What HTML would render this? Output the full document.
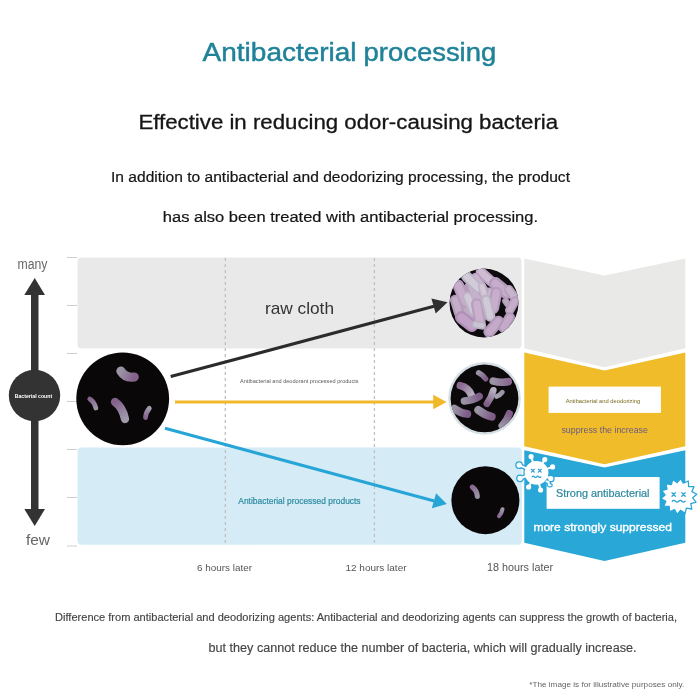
<!DOCTYPE html>
<html>
<head>
<meta charset="utf-8">
<title>Antibacterial processing</title>
<style>
html,body{margin:0;padding:0;background:#fff;}
body{width:700px;height:700px;overflow:hidden;position:relative;}
svg{position:absolute;left:0;top:0;display:block;}
text{font-family:"Liberation Sans",sans-serif;}
</style>
</head>
<body>
<svg width="700" height="700" viewBox="0 0 700 700">
<defs>
  <clipPath id="c1"><circle cx="484" cy="303" r="34.5"/></clipPath>
  <clipPath id="c2"><circle cx="484.5" cy="398.4" r="33.9"/></clipPath>
  <filter id="bl" x="-10%" y="-10%" width="120%" height="120%"><feGaussianBlur stdDeviation="0.6"/></filter>
  <filter id="bl2" x="-10%" y="-10%" width="120%" height="120%"><feGaussianBlur stdDeviation="0.45"/></filter>
</defs>

<!-- headings -->
<g fill="#1f8299" stroke="#1f8299" stroke-width="0.45" font-size="25">
<text x="202.6" y="61" textLength="154" lengthAdjust="spacingAndGlyphs">Antibacterial</text>
<text x="363.6" y="61" textLength="132.6" lengthAdjust="spacingAndGlyphs">processing</text>
</g>
<text x="138.4" y="129.2" font-size="20" fill="#151515" stroke="#151515" stroke-width="0.3" textLength="419.8" lengthAdjust="spacingAndGlyphs">Effective in reducing odor-causing bacteria</text>
<text x="111" y="181.5" font-size="14.7" fill="#151515" stroke="#151515" stroke-width="0.2" textLength="459" lengthAdjust="spacingAndGlyphs">In addition to antibacterial and deodorizing processing, the product</text>
<text x="162.8" y="222" font-size="14.7" fill="#151515" stroke="#151515" stroke-width="0.2" textLength="375.2" lengthAdjust="spacingAndGlyphs">has also been treated with antibacterial processing.</text>

<!-- bands -->
<rect x="77.5" y="257.5" width="444" height="91" rx="4" fill="#e9e9e9"/>
<rect x="77.5" y="447.5" width="444.3" height="97.3" rx="4" fill="#d5ecf7"/>

<!-- ticks -->
<g stroke="#d0d0d0" stroke-width="1">
<line x1="67" y1="257.5" x2="77" y2="257.5"/>
<line x1="67" y1="305.5" x2="77" y2="305.5"/>
<line x1="67" y1="353.5" x2="77" y2="353.5"/>
<line x1="67" y1="401.5" x2="77" y2="401.5"/>
<line x1="67" y1="449.5" x2="77" y2="449.5"/>
<line x1="67" y1="497.5" x2="77" y2="497.5"/>
<line x1="67" y1="546" x2="77" y2="546"/>
</g>
<!-- dashed lines -->
<g stroke="#c0c0c0" stroke-width="1.3" stroke-dasharray="3 3">
<line x1="225.3" y1="258" x2="225.3" y2="546"/>
<line x1="374.4" y1="258" x2="374.4" y2="546"/>
</g>

<!-- axis arrow -->
<g fill="#333">
<rect x="31" y="293" width="7.5" height="218"/>
<polygon points="34.7,278 45,295 24.3,295"/>
<polygon points="34.7,526 45,509 24.3,509"/>
<circle cx="34.5" cy="395.5" r="25.7"/>
</g>
<text x="17.5" y="268.5" font-size="14" fill="#666" textLength="30" lengthAdjust="spacingAndGlyphs">many</text>
<text x="26" y="545" font-size="15" fill="#666" textLength="24" lengthAdjust="spacingAndGlyphs">few</text>
<text x="33.4" y="397.5" font-size="5.9" fill="#fff" text-anchor="middle" font-weight="bold" textLength="37.5" lengthAdjust="spacingAndGlyphs">Bacterial count</text>

<!-- lines -->
<line x1="170.7" y1="376.6" x2="434" y2="306.3" stroke="#2b2b2b" stroke-width="3.1"/>
<polygon points="447.5,302.2 431.4,298.4 435.7,313.4" fill="#303030"/>
<line x1="175" y1="402" x2="434" y2="402" stroke="#f0b92c" stroke-width="2.8"/>
<polygon points="446.6,402 433.2,394.8 433.2,409.3" fill="#f0b92c"/>
<line x1="165" y1="428.3" x2="434.3" y2="501.1" stroke="#27a5d6" stroke-width="3.1"/>
<polygon points="446.8,503.9 436.1,493.2 431.8,508.2" fill="#27a5d6"/>

<!-- start circle -->
<circle cx="122.7" cy="398.8" r="46.4" fill="#0a0708"/>
<g stroke-linecap="round" fill="none" filter="url(#bl2)">
<linearGradient id="s0" gradientUnits="userSpaceOnUse" x1="120.8" y1="371" x2="134.3" y2="377"><stop offset="0" stop-color="#9a94a5"/><stop offset="1" stop-color="#83628c"/></linearGradient><path d="M120.8 371 Q125.5 378.5 134.3 377" stroke="url(#s0)" stroke-width="9"/>
<linearGradient id="s1" gradientUnits="userSpaceOnUse" x1="89.8" y1="399" x2="95.8" y2="408"><stop offset="0" stop-color="#85648d"/><stop offset="1" stop-color="#9a94a5"/></linearGradient><path d="M89.8 399 Q94.5 402 95.8 408" stroke="url(#s1)" stroke-width="4.8"/>
<linearGradient id="s2" gradientUnits="userSpaceOnUse" x1="115" y1="402" x2="125" y2="419"><stop offset="0" stop-color="#84628c"/><stop offset="1" stop-color="#a09aab"/></linearGradient><path d="M115 402 Q122.5 407 125 419" stroke="url(#s2)" stroke-width="8.3"/>
<linearGradient id="s3" gradientUnits="userSpaceOnUse" x1="149.3" y1="408.3" x2="145.5" y2="417.5"><stop offset="0" stop-color="#a09aab"/><stop offset="1" stop-color="#85648d"/></linearGradient><path d="M149.3 408.3 Q146 412 145.5 417.5" stroke="url(#s3)" stroke-width="4.8"/>
</g>

<!-- labels in chart -->
<text x="265" y="313.5" font-size="17" fill="#333" textLength="69" lengthAdjust="spacingAndGlyphs">raw cloth</text>
<text x="240" y="383.3" font-size="6" fill="#5a5a5a" textLength="118.6" lengthAdjust="spacingAndGlyphs">Antibacterial and deodorant processed products</text>
<text x="238.3" y="503.8" font-size="8.6" fill="#2c8ba0" stroke="#2c8ba0" stroke-width="0.2" textLength="122.3" lengthAdjust="spacingAndGlyphs">Antibacterial processed products</text>

<!-- x axis labels -->
<text x="197" y="570.5" font-size="9.5" fill="#555" textLength="55" lengthAdjust="spacingAndGlyphs">6 hours later</text>
<text x="345.5" y="570.5" font-size="9.5" fill="#555" textLength="61" lengthAdjust="spacingAndGlyphs">12 hours later</text>
<text x="487" y="570.5" font-size="10.5" fill="#555" textLength="66" lengthAdjust="spacingAndGlyphs">18 hours later</text>

<!-- footer text -->
<text x="55" y="620.5" font-size="11" fill="#444" stroke="#444" stroke-width="0.15" textLength="622" lengthAdjust="spacingAndGlyphs">Difference from antibacterial and deodorizing agents: Antibacterial and deodorizing agents can suppress the growth of bacteria,</text>
<text x="208.5" y="651.8" font-size="12.5" fill="#444" stroke="#444" stroke-width="0.15" textLength="428" lengthAdjust="spacingAndGlyphs">but they cannot reduce the number of bacteria, which will gradually increase.</text>
<text x="529.3" y="686.6" font-size="7.5" fill="#666" textLength="155" lengthAdjust="spacingAndGlyphs">*The image is for illustrative purposes only.</text>

<!-- right panels -->
<polygon points="524.3,258.5 604.5,275.6 685.3,258.5 685.3,348.3 604.5,367.2 524.3,348.3" fill="#e9e9e8"/>
<polygon points="524.3,352.5 604.5,370.4 685.3,352.5 685.3,446.3 604.5,464.3 524.3,446.3" fill="#f0bc2a"/>
<polygon points="524.3,450.2 604.5,467.4 685.3,450.2 685.3,542.7 604.5,560.9 524.3,542.7" fill="#29a8d8"/>
<rect x="548.6" y="386.6" width="112.3" height="26.3" fill="#fff"/>
<rect x="546.6" y="477" width="113" height="31.8" fill="#fff"/>
<text x="565.7" y="402.5" font-size="6.2" fill="#7a6a1e" textLength="74.5" lengthAdjust="spacingAndGlyphs">Antibacterial and deodorizing</text>
<text x="561.4" y="433" font-size="9.5" fill="#6a5a84" textLength="86.5" lengthAdjust="spacingAndGlyphs">suppress the increase</text>
<text x="556" y="496.8" font-size="10.8" fill="#2b879f" textLength="93.5" lengthAdjust="spacingAndGlyphs" stroke="#2b879f" stroke-width="0.2">Strong antibacterial</text>
<text x="533.4" y="531" font-size="11.8" fill="#fff" textLength="138.5" lengthAdjust="spacingAndGlyphs" stroke="#fff" stroke-width="0.35">more strongly suppressed</text>

<!-- virus1 -->
<g stroke="#2aa7d7" stroke-width="4.6" fill="#2aa7d7" stroke-linecap="round">
<circle cx="536.5" cy="472.8" r="10.9"/>
<line x1="536.5" y1="472.8" x2="531.1" y2="456.6"/>
<circle cx="531.1" cy="456.6" r="1.6"/>
<line x1="536.5" y1="472.8" x2="544.8" y2="459.6"/>
<circle cx="544.8" cy="459.6" r="1.6"/>
<line x1="536.5" y1="472.8" x2="552.6" y2="466.9"/>
<circle cx="552.6" cy="466.9" r="1.6"/>
<line x1="536.5" y1="472.8" x2="550.8" y2="478.5"/>
<circle cx="550.8" cy="478.5" r="1.6"/>
<line x1="536.5" y1="472.8" x2="540.6" y2="490"/>
<circle cx="540.6" cy="490" r="1.6"/>
<line x1="536.5" y1="472.8" x2="528.6" y2="487"/>
<circle cx="528.6" cy="487" r="1.6"/>
<line x1="536.5" y1="472.8" x2="520" y2="478.3"/>
<circle cx="520" cy="478.3" r="1.6"/>
<line x1="536.5" y1="472.8" x2="519.1" y2="465.1"/>
<circle cx="519.1" cy="465.1" r="1.6"/>
<path d="M546.5 481.5 q2.5 -0.5 2.2 2 q-0.3 2 1.8 1.8" fill="none"/>
</g>
<g stroke="#fff" stroke-width="2" fill="#fff" stroke-linecap="round">
<circle cx="536.5" cy="472.8" r="10.9"/>
<line x1="536.5" y1="472.8" x2="531.1" y2="456.6"/>
<circle cx="531.1" cy="456.6" r="1.6"/>
<line x1="536.5" y1="472.8" x2="544.8" y2="459.6"/>
<circle cx="544.8" cy="459.6" r="1.6"/>
<line x1="536.5" y1="472.8" x2="552.6" y2="466.9"/>
<circle cx="552.6" cy="466.9" r="1.6"/>
<line x1="536.5" y1="472.8" x2="550.8" y2="478.5"/>
<circle cx="550.8" cy="478.5" r="1.6"/>
<line x1="536.5" y1="472.8" x2="540.6" y2="490"/>
<circle cx="540.6" cy="490" r="1.6"/>
<line x1="536.5" y1="472.8" x2="528.6" y2="487"/>
<circle cx="528.6" cy="487" r="1.6"/>
<line x1="536.5" y1="472.8" x2="520" y2="478.3"/>
<circle cx="520" cy="478.3" r="1.6"/>
<line x1="536.5" y1="472.8" x2="519.1" y2="465.1"/>
<circle cx="519.1" cy="465.1" r="1.6"/>
<path d="M546.5 481.5 q2.5 -0.5 2.2 2 q-0.3 2 1.8 1.8" fill="none"/>
</g>
<g stroke="#2aa2d4" stroke-width="1.25" fill="none" stroke-linecap="round">
<path d="M531.5 469.3 l2.8 2.8 M534.3 469.3 l-2.8 2.8"/>
<path d="M538.4 469.3 l2.8 2.8 M541.2 469.3 l-2.8 2.8"/>
<path d="M532.2 476.8 q1.1 -1.3 2.2 0 q1.1 1.3 2.2 0 q1.1 -1.3 2.2 0 q1.1 1.3 2.2 0"/>
</g>
<!-- virus2 -->
<polygon points="680.7,478.5 683.3,483.2 688.3,481.0 688.6,486.5 694.0,486.6 692.0,491.6 696.8,494.2 692.7,497.8 696.0,502.1 690.8,503.7 691.8,509.0 686.4,508.1 685.1,513.3 680.6,510.2 677.1,514.3 674.5,509.6 669.5,511.8 669.2,506.3 663.8,506.2 665.8,501.2 661.0,498.6 665.1,495.0 661.8,490.7 667.0,489.1 666.0,483.8 671.4,484.7 672.7,479.5 677.2,482.6" fill="#fff" stroke="#2aa7d7" stroke-width="1.3" stroke-linejoin="round"/>
<g stroke="#2aa2d4" stroke-width="1.3" fill="none" stroke-linecap="round">
<path d="M672 492.8 l3.4 3.4 M675.4 492.8 l-3.4 3.4"/>
<path d="M681.8 492.8 l3.4 3.4 M685.2 492.8 l-3.4 3.4"/>
<path d="M672.3 501.3 q1.6 -1.8 3.2 0 q1.6 1.8 3.2 0 q1.6 -1.8 3.2 0 q1.6 1.8 3.2 0"/>
</g>
<!-- /virus -->
<!-- circles -->
<circle cx="484" cy="303" r="34.5" fill="#0c0a0c"/>
<circle cx="484.5" cy="398.4" r="36.3" fill="#d6dfe4"/>
<circle cx="484.5" cy="398.4" r="33.9" fill="#0c090b"/>
<circle cx="485.4" cy="500.2" r="34" fill="#0a0708"/>
<!-- bacteria -->
<g clip-path="url(#c1)"><g stroke-linecap="round" filter="url(#bl)">
<ellipse cx="476.5" cy="301" rx="16" ry="21" fill="#b79bbc" transform="rotate(-15 476.5 301)"/>
<line x1="463.4" y1="305.1" x2="469.6" y2="316.4" stroke="#b19bb7" stroke-width="10.5"/>
<line x1="463.4" y1="305.1" x2="469.6" y2="316.4" stroke="#c0abc6" stroke-width="6.5"/>
<line x1="471.7" y1="287.6" x2="477.8" y2="298.9" stroke="#b69fbb" stroke-width="10.5"/>
<line x1="471.7" y1="287.6" x2="477.8" y2="298.9" stroke="#c6b1cb" stroke-width="6.5"/>
<line x1="489.2" y1="292.7" x2="492.2" y2="301.0" stroke="#b9a7c0" stroke-width="10.5"/>
<line x1="489.2" y1="292.7" x2="492.2" y2="301.0" stroke="#cabacf" stroke-width="6.5"/>
<line x1="505.6" y1="301.0" x2="507.7" y2="304.0" stroke="#ac98b3" stroke-width="7.0"/>
<line x1="505.6" y1="301.0" x2="507.7" y2="304.0" stroke="#bba8c1" stroke-width="4.3"/>
<line x1="455.2" y1="299.9" x2="459.3" y2="313.3" stroke="#b299b8" stroke-width="10.5"/>
<line x1="455.2" y1="299.9" x2="459.3" y2="313.3" stroke="#c4adc9" stroke-width="6.5"/>
<line x1="458.3" y1="285.5" x2="465.5" y2="302.0" stroke="#b89bbd" stroke-width="11.6"/>
<line x1="458.3" y1="285.5" x2="465.5" y2="302.0" stroke="#c8adcc" stroke-width="7.2"/>
<line x1="461.4" y1="317.4" x2="471.7" y2="325.6" stroke="#b190b7" stroke-width="12.8"/>
<line x1="461.4" y1="317.4" x2="471.7" y2="325.6" stroke="#c3a2c7" stroke-width="7.9"/>
<line x1="480.9" y1="272.1" x2="491.2" y2="281.4" stroke="#bca5c2" stroke-width="10.5"/>
<line x1="480.9" y1="272.1" x2="491.2" y2="281.4" stroke="#cfbcd3" stroke-width="6.5"/>
<line x1="475.8" y1="277.3" x2="484.0" y2="290.7" stroke="#b9a2bf" stroke-width="9.3"/>
<line x1="475.8" y1="277.3" x2="484.0" y2="290.7" stroke="#cbb6d0" stroke-width="5.8"/>
<line x1="466.5" y1="276.3" x2="477.8" y2="287.6" stroke="#bbb4c5" stroke-width="11.0"/>
<line x1="466.5" y1="276.3" x2="477.8" y2="287.6" stroke="#d1cbd9" stroke-width="6.8"/>
<line x1="495.3" y1="283.5" x2="506.6" y2="292.7" stroke="#b69abb" stroke-width="12.8"/>
<line x1="495.3" y1="283.5" x2="506.6" y2="292.7" stroke="#c8accc" stroke-width="7.9"/>
<line x1="508.7" y1="289.6" x2="514.9" y2="297.9" stroke="#b5a1bc" stroke-width="9.3"/>
<line x1="508.7" y1="289.6" x2="514.9" y2="297.9" stroke="#c7b4cd" stroke-width="5.8"/>
<line x1="496.4" y1="292.7" x2="493.3" y2="308.2" stroke="#b69dbc" stroke-width="11.6"/>
<line x1="496.4" y1="292.7" x2="493.3" y2="308.2" stroke="#c8aecc" stroke-width="7.2"/>
<line x1="482.0" y1="286.5" x2="486.1" y2="301.0" stroke="#c0b2c7" stroke-width="8.1"/>
<line x1="482.0" y1="286.5" x2="486.1" y2="301.0" stroke="#d3c7d8" stroke-width="5.0"/>
<line x1="467.5" y1="296.8" x2="473.7" y2="311.2" stroke="#bbb2c4" stroke-width="10.5"/>
<line x1="467.5" y1="296.8" x2="473.7" y2="311.2" stroke="#cfc8d7" stroke-width="6.5"/>
<line x1="476.8" y1="304.0" x2="479.9" y2="321.5" stroke="#b89ebe" stroke-width="11.6"/>
<line x1="476.8" y1="304.0" x2="479.9" y2="321.5" stroke="#cbb1ce" stroke-width="7.2"/>
<line x1="486.1" y1="299.9" x2="490.2" y2="316.4" stroke="#bbb3c5" stroke-width="10.5"/>
<line x1="486.1" y1="299.9" x2="490.2" y2="316.4" stroke="#cfc9d8" stroke-width="6.5"/>
<line x1="514.9" y1="301.0" x2="509.7" y2="310.2" stroke="#b49cba" stroke-width="9.3"/>
<line x1="514.9" y1="301.0" x2="509.7" y2="310.2" stroke="#c6adca" stroke-width="5.8"/>
<line x1="498.4" y1="321.5" x2="489.2" y2="331.8" stroke="#b398b9" stroke-width="11.6"/>
<line x1="498.4" y1="321.5" x2="489.2" y2="331.8" stroke="#c4a9c9" stroke-width="7.2"/>
<line x1="509.7" y1="317.4" x2="503.6" y2="327.7" stroke="#b298b8" stroke-width="10.5"/>
<line x1="509.7" y1="317.4" x2="503.6" y2="327.7" stroke="#c4a9c8" stroke-width="6.5"/>
<line x1="475.8" y1="324.6" x2="482.0" y2="325.6" stroke="#b9b0c2" stroke-width="8.1"/>
<line x1="475.8" y1="324.6" x2="482.0" y2="325.6" stroke="#cac3d2" stroke-width="5.0"/>
</g></g>
<g clip-path="url(#c2)"><g stroke-linecap="round" fill="none" filter="url(#bl2)">
<linearGradient id="r1" gradientUnits="userSpaceOnUse" x1="478.6" y1="372.7" x2="485.6" y2="378.8"><stop offset="0" stop-color="#9a94a5"/><stop offset="1" stop-color="#7f5d88"/></linearGradient><path d="M478.6 372.7 Q482.4 374.3 485.6 378.8" stroke="url(#r1)" stroke-width="5.4"/>
<linearGradient id="r2" gradientUnits="userSpaceOnUse" x1="493.3" y1="381.1" x2="508.1" y2="381.7"><stop offset="0" stop-color="#9a94a5"/><stop offset="1" stop-color="#8a6a93"/></linearGradient><path d="M493.3 381.1 Q500.4 383.0 508.1 381.7" stroke="url(#r2)" stroke-width="7.7"/>
<linearGradient id="r3" gradientUnits="userSpaceOnUse" x1="460.3" y1="385.6" x2="471.5" y2="395.5"><stop offset="0" stop-color="#8a6a93"/><stop offset="1" stop-color="#b6b0be"/></linearGradient><path d="M460.3 385.6 Q468.3 387.1 471.5 395.5" stroke="url(#r3)" stroke-width="7.5"/>
<linearGradient id="r4" gradientUnits="userSpaceOnUse" x1="464.4" y1="401.0" x2="479.2" y2="396.4"><stop offset="0" stop-color="#9a94a5"/><stop offset="1" stop-color="#7f5d88"/></linearGradient><path d="M464.4 401.0 Q473.4 400.2 479.2 396.4" stroke="url(#r4)" stroke-width="7.5"/>
<linearGradient id="r5" gradientUnits="userSpaceOnUse" x1="493.3" y1="390.3" x2="486.9" y2="403.8"><stop offset="0" stop-color="#b6b0be"/><stop offset="1" stop-color="#7f5d88"/></linearGradient><path d="M493.3 390.3 Q491.4 397.4 486.9 403.8" stroke="url(#r5)" stroke-width="6.7"/>
<linearGradient id="r6" gradientUnits="userSpaceOnUse" x1="502.3" y1="392.3" x2="496.6" y2="396.4"><stop offset="0" stop-color="#9a94a5"/><stop offset="1" stop-color="#a8a1b2"/></linearGradient><path d="M502.3 392.3 Q499.8 395.5 496.6 396.4" stroke="url(#r6)" stroke-width="4.9"/>
<linearGradient id="r7" gradientUnits="userSpaceOnUse" x1="454.4" y1="408.7" x2="467.2" y2="413.9"><stop offset="0" stop-color="#9a94a5"/><stop offset="1" stop-color="#7f5d88"/></linearGradient><path d="M454.4 408.7 Q460.6 413.1 467.2 413.9" stroke="url(#r7)" stroke-width="8.0"/>
<linearGradient id="r8" gradientUnits="userSpaceOnUse" x1="478.3" y1="410.0" x2="491.7" y2="416.7"><stop offset="0" stop-color="#9a94a5"/><stop offset="1" stop-color="#7f5d88"/></linearGradient><path d="M478.3 410.0 Q485.0 415.2 491.7 416.7" stroke="url(#r8)" stroke-width="8.0"/>
<linearGradient id="r9" gradientUnits="userSpaceOnUse" x1="509.4" y1="413.5" x2="502.0" y2="425.7"><stop offset="0" stop-color="#7f5d88"/><stop offset="1" stop-color="#9a94a5"/></linearGradient><path d="M509.4 413.5 Q506.8 420.6 502.0 425.7" stroke="url(#r9)" stroke-width="7.1"/>
</g></g>
<g stroke-linecap="round" fill="none" filter="url(#bl2)">
<linearGradient id="r10" gradientUnits="userSpaceOnUse" x1="472.4" y1="487.1" x2="477.3" y2="496.4"><stop offset="0" stop-color="#8a6a93"/><stop offset="1" stop-color="#9a94a5"/></linearGradient><path d="M472.4 487.1 Q476.9 490.3 477.3 496.4" stroke="url(#r10)" stroke-width="5.1"/>
<linearGradient id="r11" gradientUnits="userSpaceOnUse" x1="502.5" y1="509.2" x2="499.1" y2="516.2"><stop offset="0" stop-color="#9a94a5"/><stop offset="1" stop-color="#8a6a93"/></linearGradient><path d="M502.5 509.2 Q501.7 513.5 499.1 516.2" stroke="url(#r11)" stroke-width="4.1"/>
</g>
<!-- /bacteria -->
</svg>
</body>
</html>
